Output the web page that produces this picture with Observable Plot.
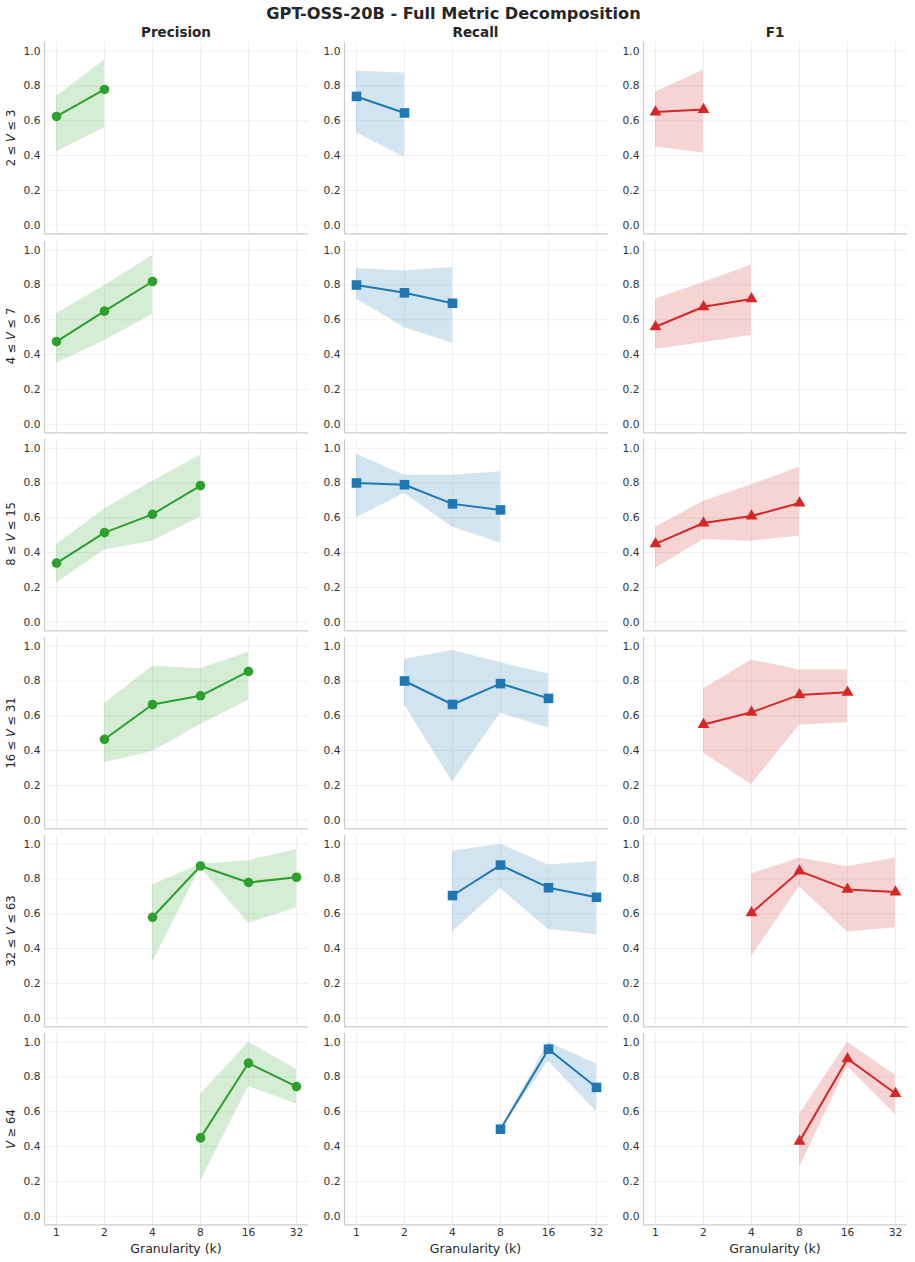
<!DOCTYPE html>
<html><head><meta charset="utf-8">
<script src="https://cdn.jsdelivr.net/npm/d3@7"></script>
<script src="https://cdn.jsdelivr.net/npm/@observablehq/plot@0.6"></script>
<style>
body{margin:0;background:#fff;font-family:"DejaVu Sans",sans-serif;color:#262626}
#wrap{position:relative;width:915px;height:1262px;overflow:hidden;background:#fff}
.abs{position:absolute;white-space:nowrap;line-height:1}
.ctr{transform:translate(-50%,-50%)}
.rot{transform-origin:0 0;transform:rotate(-90deg) translate(-50%,-50%)}
</style></head><body><div id="wrap"></div>
<script>
const title = "GPT-OSS-20B - Full Metric Decomposition";
const metrics = ["Precision", "Recall", "F1"];
const binLabels = ["2 ≤ V ≤ 3", "4 ≤ V ≤ 7", "8 ≤ V ≤ 15", "16 ≤ V ≤ 31", "32 ≤ V ≤ 63", "V ≥ 64"];
const xLabel = "Granularity (k)";
const kTicks = [1, 2, 4, 8, 16, 32];
const yTicks = [0, 0.2, 0.4, 0.6, 0.8, 1.0];
const rowK = [[1, 2], [1, 2, 4], [1, 2, 4, 8], [2, 4, 8, 16], [4, 8, 16, 32], [8, 16, 32]];

const precisionMean = [[0.625, 0.78], [0.475, 0.65, 0.82], [0.34, 0.515, 0.62, 0.785], [0.465, 0.665, 0.715, 0.855], [0.58, 0.875, 0.78, 0.81], [0.45, 0.88, 0.745]];
const precisionLo   = [[0.42, 0.56], [0.35, 0.48, 0.63], [0.225, 0.415, 0.465, 0.605], [0.33, 0.395, 0.55, 0.69], [0.32, 0.865, 0.545, 0.635], [0.2, 0.745, 0.645]];
const precisionHi   = [[0.74, 0.95], [0.635, 0.795, 0.97], [0.445, 0.65, 0.81, 0.96], [0.67, 0.885, 0.87, 0.965], [0.765, 0.885, 0.905, 0.97], [0.70, 1.0, 0.845]];

const recallMean = [[0.74, 0.645], [0.80, 0.755, 0.695], [0.80, 0.79, 0.68, 0.645], [0.80, 0.665, 0.785, 0.70], [0.705, 0.88, 0.75, 0.695], [0.50, 0.96, 0.74]];
const recallLo   = [[0.53, 0.39], [0.72, 0.555, 0.465], [0.60, 0.74, 0.545, 0.455], [0.66, 0.22, 0.615, 0.53], [0.495, 0.745, 0.51, 0.48], [0.50, 0.89, 0.60]];
const recallHi   = [[0.885, 0.875], [0.895, 0.88, 0.90], [0.965, 0.845, 0.845, 0.865], [0.925, 0.975, 0.905, 0.84], [0.96, 1.0, 0.88, 0.90], [0.50, 1.0, 0.875]];

const f1Mean = [[0.65, 0.665], [0.56, 0.675, 0.72], [0.45, 0.57, 0.61, 0.685], [0.55, 0.62, 0.72, 0.735], [0.605, 0.845, 0.74, 0.725], [0.43, 0.905, 0.705]];
const f1Lo   = [[0.45, 0.415], [0.43, 0.47, 0.51], [0.31, 0.475, 0.465, 0.495], [0.385, 0.205, 0.545, 0.56], [0.355, 0.755, 0.495, 0.52], [0.28, 0.86, 0.585]];
const f1Hi   = [[0.765, 0.89], [0.72, 0.815, 0.915], [0.545, 0.695, 0.79, 0.89], [0.755, 0.92, 0.865, 0.865], [0.83, 0.92, 0.87, 0.92], [0.585, 1.0, 0.81]];

const colors = ["#2ca02c", "#1f77b4", "#d62728"];
const symbols = ["circle", "square", "triangle"];
const symR = [4.8, 5.4, 4.4];

const means = [precisionMean, recallMean, f1Mean];
const los = [precisionLo, recallLo, f1Lo];
const his = [precisionHi, recallHi, f1Hi];

const wrap = document.getElementById("wrap");
const spineX = [44, 343.5, 643];
const rowTop0 = 42.3, rowStep = 198.2;
const PW = 264, PH = 191.4;
const xDom = [2 ** -0.25, 2 ** 5.25];
const yDom = [-0.05, 1.05];

function addText(html, x, y, cls, style) {
  const d = document.createElement("div");
  d.className = "abs " + cls;
  d.innerHTML = html;
  d.style.left = x + "px";
  d.style.top = y + "px";
  Object.assign(d.style, style || {});
  wrap.appendChild(d);
}

addText(title, 453.5, 14, "ctr", {fontWeight: "bold", fontSize: "16.2px"});
metrics.forEach((m, c) => addText(m, spineX[c] + PW / 2, 32.5, "ctr", {fontWeight: "bold", fontSize: "13.5px"}));
binLabels.forEach((b, r) => addText(b.replace("V", "<i>V</i>"), 11.5, rowTop0 + r * rowStep + PH / 2, "rot", {fontSize: "11.5px"}));

for (let r = 0; r < 6; r++) {
  for (let c = 0; c < 3; c++) {
    const data = rowK[r].map((k, i) => ({k, m: means[c][r][i], lo: los[c][r][i], hi: his[c][r][i]}));
    const bottom = r === 5;
    const mt = 4, mb = bottom ? 20 : 4, ml = 44, mr = 6;
    const svg = Plot.plot({
      width: ml + PW + mr, height: mt + PH + mb,
      marginLeft: ml, marginRight: mr, marginTop: mt, marginBottom: mb,
      style: {background: "transparent", fontFamily: "DejaVu Sans", fontSize: "10.7px", color: "#333", overflow: "visible"},
      x: {type: "log", base: 2, domain: xDom, axis: null},
      y: {domain: yDom, axis: null},
      marks: [
        Plot.gridX(kTicks, {stroke: "#efefef", strokeOpacity: 1}),
        Plot.gridY(yTicks, {stroke: "#efefef", strokeOpacity: 1}),
        Plot.axisY(yTicks, {tickSize: 0, tickPadding: 4, tickFormat: d3.format(".1f"), label: null}),
        bottom ? Plot.axisX(kTicks, {tickSize: 0, tickPadding: 3, tickFormat: d => String(d), label: null}) : null,
        Plot.ruleX([xDom[0]], {stroke: "#cccccc", strokeWidth: 1.2}),
        Plot.ruleY([yDom[0]], {stroke: "#cccccc", strokeWidth: 1.2}),
        Plot.areaY(data, {x: "k", y1: "lo", y2: "hi", fill: colors[c], fillOpacity: 0.2}),
        Plot.line(data, {x: "k", y: "m", stroke: colors[c], strokeWidth: 2}),
        Plot.dot(data, {x: "k", y: "m", symbol: symbols[c], r: symR[c], fill: colors[c], stroke: null})
      ]
    });
    svg.style.position = "absolute";
    svg.style.left = (spineX[c] - ml) + "px";
    svg.style.top = (rowTop0 + r * rowStep - mt) + "px";
    wrap.appendChild(svg);
  }
  if (r === 5) {
    for (let c = 0; c < 3; c++) addText(xLabel, spineX[c] + PW / 2, 1249, "ctr", {fontSize: "12.5px"});
  }
}
</script></body></html>
